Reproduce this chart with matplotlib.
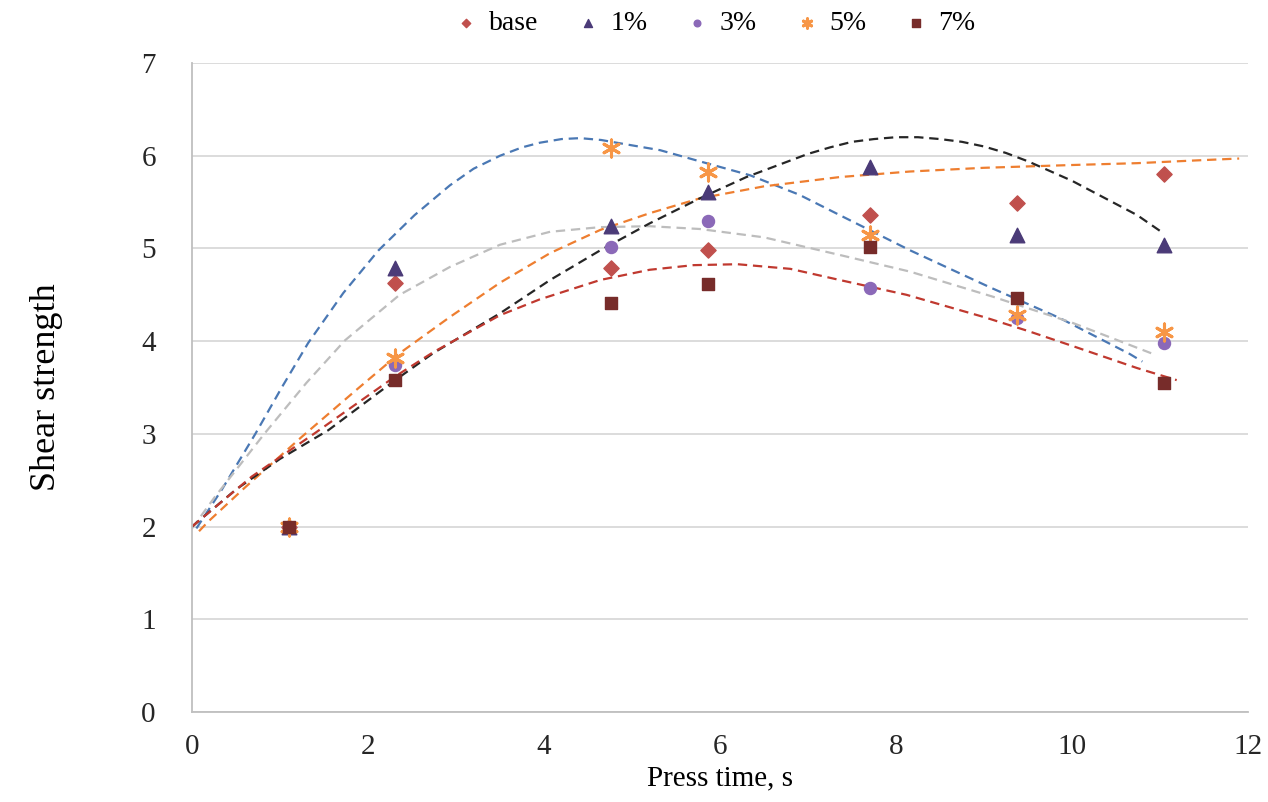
import matplotlib
matplotlib.use('Agg')
import matplotlib.pyplot as plt

plt.rcParams['font.family'] = ['Liberation Serif', 'DejaVu Serif']

# Measured points (press time in s, shear strength)
press_time = [1.1, 2.31, 4.76, 5.86, 7.70, 9.38, 11.05]
base = [2.0, 4.63, 4.79, 4.98, 5.36, 5.49, 5.80]
pct1 = [2.0, 4.79, 5.24, 5.61, 5.88, 5.15, 5.04]
pct3 = [2.0, 3.74, 5.02, 5.30, 4.57, 4.25, 3.98]
pct5 = [2.0, 3.82, 6.08, 5.83, 5.15, 4.28, 4.10]
pct7 = [2.0, 3.58, 4.41, 4.62, 5.02, 4.47, 3.55]

# Trend curves (sampled along each dashed line)
trend_base_x = [0.08, 0.18, 0.6, 1.25, 1.85, 2.36, 2.93, 3.5, 4.07, 4.64, 5.2, 5.77,
                6.5, 7.36, 8.16, 9.0, 10.0, 10.74, 11.42, 11.9]
trend_base_y = [1.95, 2.05, 2.42, 2.97, 3.46, 3.87, 4.26, 4.63, 4.95, 5.20, 5.38, 5.54,
                5.67, 5.77, 5.83, 5.87, 5.90, 5.92, 5.95, 5.97]

trend_1_x = [0.0, 0.5, 1.0, 1.55, 2.31, 2.74, 3.5, 4.07, 4.64, 5.2, 5.77, 6.3,
             7.0, 7.25, 7.5, 7.75, 8.0, 8.25, 8.5, 8.75, 9.0, 9.25, 9.5, 10.0,
             10.5, 10.74, 11.03]
trend_1_y = [2.0, 2.4, 2.73, 3.04, 3.58, 3.87, 4.30, 4.66, 4.98, 5.27, 5.54, 5.77,
             6.02, 6.09, 6.15, 6.18, 6.20, 6.20, 6.18, 6.15, 6.10, 6.03, 5.94, 5.73,
             5.48, 5.36, 5.17]

trend_3_x = [0.0, 0.26, 0.83, 1.3, 1.74, 2.36, 2.93, 3.5, 4.07, 4.64, 5.2, 5.77,
             6.5, 7.36, 8.16, 9.1, 10.0, 10.9]
trend_3_y = [1.98, 2.32, 3.01, 3.55, 4.01, 4.50, 4.80, 5.04, 5.18, 5.23, 5.24, 5.21,
             5.12, 4.93, 4.75, 4.48, 4.20, 3.87]

trend_5_x = [0.05, 0.34, 0.72, 1.02, 1.32, 1.72, 2.12, 2.53, 2.93, 3.2, 3.5, 3.75,
             3.95, 4.2, 4.41, 4.65, 4.83, 5.32, 5.77, 6.34, 6.9, 7.36, 8.16, 9.07,
             9.86, 10.66, 10.8]
trend_5_y = [1.98, 2.40, 3.00, 3.50, 3.98, 4.52, 4.98, 5.36, 5.68, 5.86, 6.00, 6.09,
             6.14, 6.18, 6.19, 6.17, 6.14, 6.06, 5.94, 5.79, 5.58, 5.36, 4.98, 4.58,
             4.25, 3.86, 3.78]

trend_7_x = [0.0, 0.68, 1.40, 2.31, 2.74, 3.5, 3.95, 4.64, 5.2, 5.7, 6.2, 6.8,
             7.36, 8.12, 9.0, 9.5, 10.0, 10.74, 11.19]
trend_7_y = [2.0, 2.54, 3.01, 3.62, 3.88, 4.28, 4.45, 4.66, 4.77, 4.82, 4.83, 4.78,
             4.66, 4.50, 4.26, 4.11, 3.95, 3.71, 3.58]

fig = plt.figure(figsize=(12.68, 8.02), dpi=100)
ax = fig.add_axes([0.1514, 0.1122, 0.8328, 0.8092])

dash = (4.2, 2.6)
trend_style = dict(lw=1.6, dashes=dash, zorder=2, solid_joinstyle='round',
                   dash_joinstyle='round')
ax.plot(trend_5_x, trend_5_y, color='#4A78B4', **trend_style)
ax.plot(trend_3_x, trend_3_y, color='#BDBDBD', **trend_style)
ax.plot(trend_base_x, trend_base_y, color='#EE7E30', **trend_style)
ax.plot(trend_1_x, trend_1_y, color='#262626', **trend_style)
ax.plot(trend_7_x, trend_7_y, color='#C0392F', **trend_style)

ax.scatter(press_time, base, marker='D', s=60, color='#C0504D', label='base', zorder=3)
ax.scatter(press_time, pct1, marker='^', s=110, color='#4B3B78', label='1%', zorder=3)
ax.scatter(press_time, pct3, marker='o', s=75, color='#8B69B8', label='3%', zorder=3)
ax.scatter(press_time, pct5, marker=(6, 2, 0), s=150, linewidths=2.2,
           color='#F79646', label='5%', zorder=3)
ax.scatter(press_time, pct7, marker='s', s=85, color='#772C2A', label='7%', zorder=3)

ax.set_xlim(0, 12)
ax.set_ylim(0, 7)
ax.set_xticks(range(0, 13, 2))
ax.set_yticks(range(0, 8))
ax.grid(axis='y', color='#D9D9D9', lw=1.3)
ax.set_axisbelow(True)
for side in ['top', 'right']:
    ax.spines[side].set_visible(False)
for side in ['left', 'bottom']:
    ax.spines[side].set_color('#BFBFBF')
    ax.spines[side].set_linewidth(1.3)
ax.tick_params(length=0, labelsize=21, colors='#262626')
ax.tick_params(axis='x', pad=16)
ax.tick_params(axis='y', pad=26)

ax.set_xlabel('Press time, s', fontsize=21, labelpad=4)
ax.set_ylabel('Shear strength', fontsize=26, labelpad=56)

leg = fig.legend(loc='upper center', bbox_to_anchor=(0.563, 1.018), ncol=5,
                 frameon=False, fontsize=20, markerscale=0.55, handletextpad=0.3,
                 columnspacing=1.3, handlelength=1.0)

fig.savefig('out.png', dpi=100)
